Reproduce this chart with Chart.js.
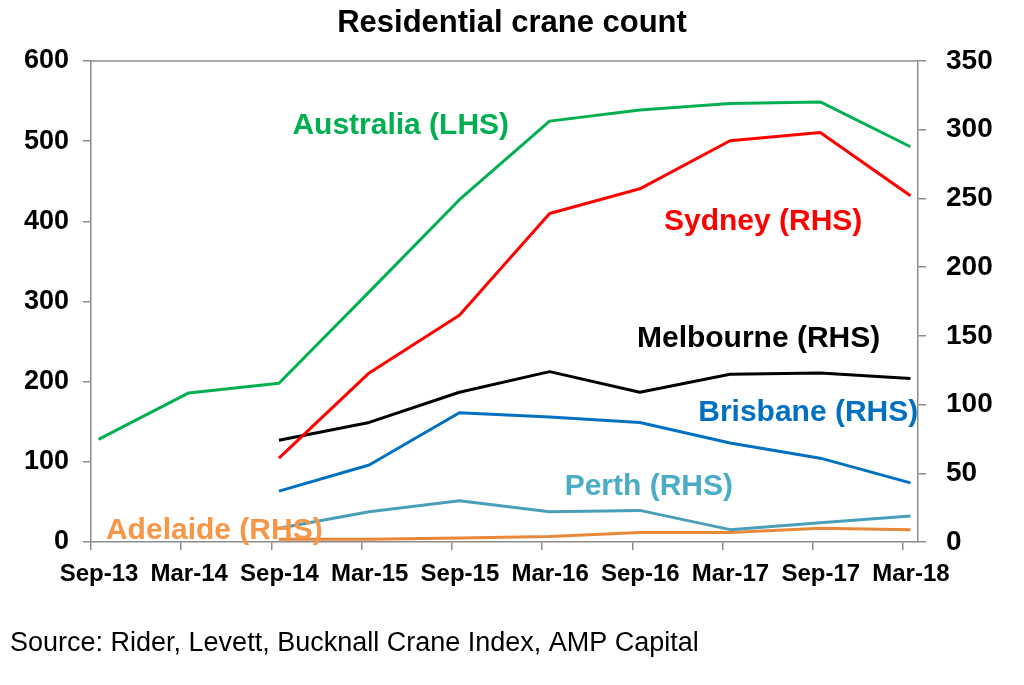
<!DOCTYPE html>
<html>
<head>
<meta charset="utf-8">
<script src="https://cdn.jsdelivr.net/npm/chart.js@4/dist/chart.umd.min.js"></script>
<style>
  html, body { margin: 0; padding: 0; background: #fff; }
  #wrap { width: 1024px; height: 685px; position: relative; }
</style>
</head>
<body>
<div id="wrap"><canvas id="craneChart" width="1024" height="685"></canvas></div>
<script>
// half-yearly observations, Sep-13 to Mar-18
const categories = ['Sep-13', 'Mar-14', 'Sep-14', 'Mar-15', 'Sep-15', 'Mar-16', 'Sep-16', 'Mar-17', 'Sep-17', 'Mar-18'];
const australia = [128, 186, 198, 312, 427, 525, 539, 547, 549, 493];   // LHS
const sydney    = [null, null, 61, 123, 165, 239, 257, 292, 298, 252];  // RHS
const melbourne = [null, null, 74, 87, 109, 124, 109, 122, 123, 119];
const brisbane  = [null, null, 37, 56, 94, 91, 87, 72, 61, 43];
const perth     = [null, null, 10, 22, 30, 22, 23, 9, 14, 19];
const adelaide  = [null, null, 2, 2, 3, 4, 7, 7, 10, 9];

const leftTicks = [0, 100, 200, 300, 400, 500, 600];
const rightTicks = [0, 50, 100, 150, 200, 250, 300, 350];

const monthsPerStep = 6;
const pointOffset = 0.5; // points sit mid-month, just right of each tick

const seriesNames = ['Australia (LHS)', 'Sydney (RHS)', 'Melbourne (RHS)', 'Brisbane (RHS)', 'Perth (RHS)', 'Adelaide (RHS)'];
const seriesColors = ['#00b050', '#ff0000', '#000000', '#0070c0', '#4a9fb8', '#e8883a'];
const labelColors = ['#00b050', '#ff0000', '#000000', '#0070c0', '#4bacc6', '#f79646'];
// where each series name is written (month, axis value)
const labelMonth = [20.6, 44.7, 44.4, 47.7, 37.1, 8.2];
const labelValue = [519, 233, 148, 94, 40, 8];
const labelAxis = ['y', 'y1', 'y1', 'y1', 'y1', 'y1'];

const tickMonths = categories.map((c, i) => i * monthsPerStep);

function toPoints(values) {
  const pts = [];
  values.forEach((v, i) => {
    if (v !== null) pts.push({ x: i * monthsPerStep + pointOffset, y: v });
  });
  return pts;
}

const allSeries = [australia, sydney, melbourne, brisbane, perth, adelaide];
const datasets = allSeries.map((vals, i) => ({
  label: seriesNames[i],
  data: toPoints(vals),
  yAxisID: i === 0 ? 'y' : 'y1',
  borderColor: seriesColors[i],
  borderWidth: 3,
  pointRadius: 0,
  tension: 0,
  borderJoinStyle: 'round'
}));

const axisGray = '#8c8c8c';
const font = 'Liberation Sans, Arial, sans-serif';

const textPlugin = {
  id: 'texts',
  afterDatasetsDraw(chart) {
    const ctx = chart.ctx;
    const area = chart.chartArea;
    ctx.save();
    // top border of the plot box
    ctx.strokeStyle = axisGray;
    ctx.lineWidth = 1.5;
    ctx.beginPath();
    ctx.moveTo(area.left, area.top);
    ctx.lineTo(area.right, area.top);
    ctx.stroke();

    ctx.font = 'bold 30px ' + font;
    ctx.textAlign = 'center';
    ctx.textBaseline = 'middle';
    seriesNames.forEach((name, i) => {
      const x = chart.scales.x.getPixelForValue(labelMonth[i]);
      const y = chart.scales[labelAxis[i]].getPixelForValue(labelValue[i]);
      ctx.fillStyle = labelColors[i];
      ctx.fillText(name, x, y);
    });

    ctx.fillStyle = '#000';
    ctx.font = 'bold 31px ' + font;
    ctx.fillText('Residential crane count', chart.width / 2, 23);

    ctx.font = '27px ' + font;
    ctx.textAlign = 'left';
    ctx.fillText('Source: Rider, Levett, Bucknall Crane Index, AMP Capital', 10, 644);
    ctx.restore();
  }
};

new Chart(document.getElementById('craneChart'), {
  type: 'line',
  data: { datasets: datasets },
  plugins: [textPlugin],
  options: {
    responsive: false,
    animation: false,
    devicePixelRatio: 1,
    layout: { padding: { top: 61, left: 0, right: 0, bottom: 0 } },
    plugins: { legend: { display: false }, tooltip: { enabled: false } },
    scales: {
      x: {
        type: 'linear',
        min: 0,
        max: 55,
        afterBuildTicks: s => { s.ticks = tickMonths.map(v => ({ value: v })); },
        afterFit: s => { s.height = 143; },
        ticks: {
          autoSkip: false,
          maxRotation: 0,
          padding: 10,
          labelOffset: 8,
          color: '#000',
          font: { family: font, size: 24, weight: 'bold' },
          callback: v => categories[tickMonths.indexOf(v)]
        },
        grid: { drawOnChartArea: false, tickLength: 8, color: axisGray, lineWidth: 1.5 },
        border: { color: axisGray, width: 1.5 }
      },
      y: {
        position: 'left',
        min: 0,
        max: 600,
        afterBuildTicks: s => { s.ticks = leftTicks.map(v => ({ value: v })); },
        afterFit: s => { s.width = 91; },
        ticks: { padding: 14, color: '#000', font: { family: font, size: 27, weight: 'bold' } },
        grid: { drawOnChartArea: false, tickLength: 8, color: axisGray, lineWidth: 1.5 },
        border: { color: axisGray, width: 1.5 }
      },
      y1: {
        position: 'right',
        min: 0,
        max: 350,
        afterBuildTicks: s => { s.ticks = rightTicks.map(v => ({ value: v })); },
        afterFit: s => { s.width = 106; },
        ticks: { padding: 20, color: '#000', font: { family: font, size: 28, weight: 'bold' } },
        grid: { drawOnChartArea: false, tickLength: 8, color: axisGray, lineWidth: 1.5 },
        border: { color: axisGray, width: 1.5 }
      }
    }
  }
});
</script>
</body>
</html>
